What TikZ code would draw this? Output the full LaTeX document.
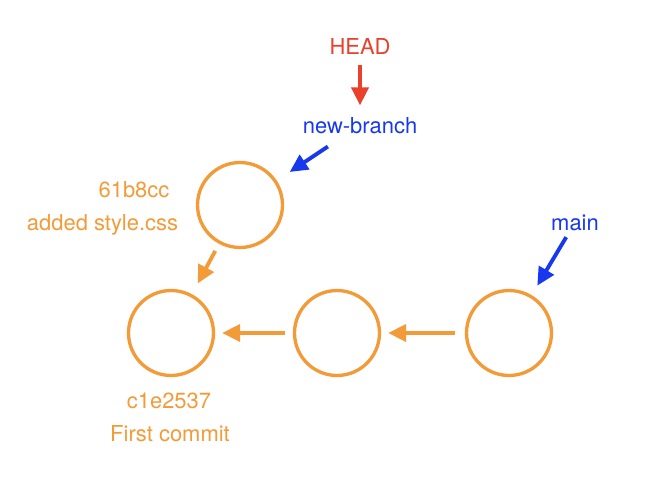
\documentclass[tikz,border=0pt]{standalone}
\usepackage{fontspec}
\setmainfont{TeX Gyre Heros}
\usepackage{xcolor}
\usetikzlibrary{arrows.meta}

\definecolor{gitorange}{RGB}{242,155,56}
\definecolor{headred}{RGB}{232,65,44}
\definecolor{refblue}{RGB}{24,56,240}

\begin{document}
\begin{tikzpicture}[
    x=0.02cm,
    y=-0.02cm,
    font=\fontsize{12.5}{15}\selectfont,
    commit/.style={
        circle,
        draw=gitorange,
        line width=1.9pt,
        minimum size=1.7cm,
        inner sep=0pt
    },
    arrow/.style={-{Triangle[length=0.36cm,width=0.34cm]}, line width=2.2pt},
    lbl/.style={anchor=base, inner sep=1pt}
]
\useasboundingbox (0,0) rectangle (658,500);

% commits
\node[commit] (c1) at (171,333) {};
\node[commit] (c2) at (337,333) {};
\node[commit] (c3) at (509,333) {};
\node[commit] (cb) at (240,205) {};

% refs
\node[lbl, text=headred] (head) at (360,55) {HEAD};
\node[lbl, text=refblue] (newbr) at (360,133) {new-branch};
\node[lbl, text=refblue] (mainref) at (575,230) {main};

% commit labels
\node[lbl, text=gitorange] (cbid) at (134,197) {61b8cc};
\node[lbl, text=gitorange] (cbmsg) at (102.5,230) {added style.css};
\node[lbl, text=gitorange] (c1id) at (169,408) {c1e2537};
\node[lbl, text=gitorange] (c1msg) at (170,441) {First commit};

% parent links
\draw[arrow, gitorange, shorten <=0.2cm, shorten >=0.14cm] (c3) -- (c2);
\draw[arrow, gitorange, shorten <=0.16cm, shorten >=0.14cm] (c2) -- (c1);
\draw[arrow, gitorange, shorten <=0.16cm, shorten >=0.24cm] (cb) -- (c1);

% pointers
\draw[arrow, headred, shorten <=0.16cm, shorten >=0.19cm] (head) -- (newbr);
\draw[arrow, refblue, shorten <=0.4cm, shorten >=0.31cm] (newbr) -- (cb);
\draw[arrow, refblue, shorten <=0.11cm, shorten >=0.22cm] (mainref) -- (c3);

\end{tikzpicture}
\end{document}
